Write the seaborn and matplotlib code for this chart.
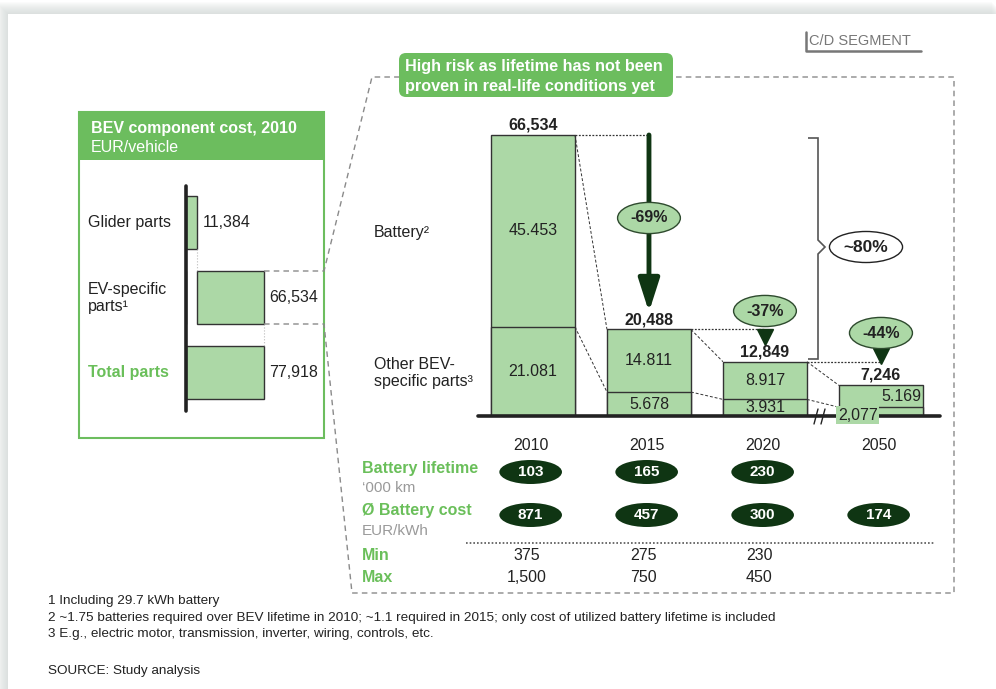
import matplotlib
matplotlib.use('Agg')
import matplotlib.pyplot as plt
import matplotlib.transforms as mtransforms
from matplotlib.patches import Rectangle, FancyBboxPatch, Ellipse, PathPatch
from matplotlib.path import Path
import seaborn as sns

# ---- data ----
left_cats = ['Glider parts', 'EV-specific\nparts\u00b9', 'Total parts']
left_values = [11384, 66534, 77918]
left_labels = ['11,384', '66,534', '77,918']

years = ['2010', '2015', '2020', '2050']
battery = [45453, 14811, 8917, 5169]
other_parts = [21081, 5678, 3931, 2077]
totals = [66534, 20488, 12849, 7246]
battery_labels = ['45.453', '14.811', '8.917', '5.169']
other_labels = ['21.081', '5.678', '3.931', '2,077']
total_labels = ['66,534', '20,488', '12,849', '7,246']
step_changes = ['-69%', '-37%', '-44%']
overall_change = '~80%'

battery_lifetime = ['103', '165', '230', '']
battery_cost = ['871', '457', '300', '174']
cost_min = ['375', '275', '230', '']
cost_max = ['1,500', '750', '450', '']

footnotes = ['1 Including 29.7 kWh battery',
             '2 ~1.75 batteries required over BEV lifetime in 2010; ~1.1 required in 2015; '
             'only cost of utilized battery lifetime is included',
             '3 E.g., electric motor, transmission, inverter, wiring, controls, etc.']
source = 'SOURCE: Study analysis'

# ---- style ----
sns.set_style('white')
plt.rcParams['font.family'] = ['Liberation Sans', 'DejaVu Sans']

bar_green = '#acd8a6'
hdr_green = '#6cbd5e'
txt_green = '#6abf5a'
dark_green = '#0f3513'
edge = '#333333'
ink = '#222222'
dash_gray = '#8a8a8a'
fs = 11.5

W, H = 996, 689
fig = plt.figure(figsize=(W / 100, H / 100), dpi=100)
fig.patch.set_facecolor('white')


def px_axes(x0, y0, x1, y1, **kw):
    return fig.add_axes([x0 / W, 1 - y1 / H, (x1 - x0) / W, (y1 - y0) / H], **kw)


# background card with a soft shadow
bg = px_axes(0, 0, W, H, zorder=-5)
bg.set_xlim(0, W)
bg.set_ylim(H, 0)
bg.axis('off')
for k in range(12, 0, -1):
    bg.add_patch(Rectangle((8 - k, 14 - k), W, H, fc='#c9d2d0', ec='none', alpha=0.07))
bg.add_patch(Rectangle((8, 14), W, H, fc='white', ec='none'))

# ---- main stacked bar chart ----
ax = px_axes(478, 110, 940, 416)
ax.patch.set_alpha(0)
ymax = totals[0] * 306 / 281
bw = 0.724

sns.barplot(x=years, y=totals, color=bar_green, saturation=1, edgecolor=edge,
            linewidth=1, width=bw, errorbar=None, ax=ax)
sns.barplot(x=years, y=other_parts, color=bar_green, saturation=1, edgecolor=edge,
            linewidth=1, width=bw, errorbar=None, ax=ax)
ax.set_xlim(-0.474, 3.509)
ax.set_ylim(0, ymax)
ax.axis('off')
ax.axhline(0, color=ink, lw=2.6, clip_on=False, zorder=5)


def px_val(py):
    return (416 - py) / 306 * ymax


for i in range(len(years)):
    ax.text(i, totals[i] + ymax * 0.008, total_labels[i], ha='center', va='bottom',
            fontsize=fs, fontweight='bold', color=ink)
    if i < 3:
        ax.text(i, other_parts[i] + battery[i] / 2, battery_labels[i], ha='center',
                va='center', fontsize=fs, color=ink)
        ax.text(i, other_parts[i] / 2, other_labels[i], ha='center', va='center',
                fontsize=fs, color=ink)
    else:
        ax.text(i + bw / 2 - 0.01, other_parts[i] + battery[i] / 2, battery_labels[i],
                ha='right', va='center', fontsize=fs, color=ink)
        ax.text(i - 0.37, other_parts[i] / 2 - ymax * 0.012, other_labels[i], ha='left',
                va='center', fontsize=fs, color=ink, zorder=6,
                bbox=dict(boxstyle='square,pad=0.1', fc=bar_green, ec='none'))

# thin connectors between consecutive bars
for i in range(3):
    ax.plot([i + bw / 2, i + 1 - bw / 2], [totals[i], totals[i + 1]], color=edge,
            lw=0.7, dashes=(3, 2))
    ax.plot([i + bw / 2, i + 1 - bw / 2], [other_parts[i], other_parts[i + 1]],
            color=edge, lw=0.7, dashes=(3, 2))
    ax.plot([i + bw / 2, i + 1], [totals[i], totals[i]], color=edge, lw=0.9,
            ls=(0, (1.5, 1.2)))

# -69% arrow
ax.annotate('', xy=(1, px_val(312)), xytext=(1, totals[0]),
            arrowprops=dict(arrowstyle='-|>,head_width=0.32,head_length=1.0',
                            mutation_scale=20, color=dark_green, lw=3.5,
                            shrinkA=0, shrinkB=0))
pct_box = dict(boxstyle='ellipse,pad=0.22', fc=bar_green, ec='#2e4a2e', lw=1)
ax.text(1, px_val(218), step_changes[0], ha='center', va='center', fontsize=fs,
        fontweight='bold', color=ink, bbox=pct_box, zorder=7)
ax.plot(2, px_val(337), marker='v', ms=11, color=dark_green, clip_on=False)
ax.text(2, px_val(311), step_changes[1], ha='center', va='center', fontsize=fs,
        fontweight='bold', color=ink, bbox=pct_box, zorder=7)
ax.plot(3, px_val(356), marker='v', ms=11, color=dark_green, clip_on=False)
ax.text(3, px_val(333), step_changes[2], ha='center', va='center', fontsize=fs,
        fontweight='bold', color=ink, bbox=pct_box, zorder=7)

# ---- left waterfall ----
ax2 = px_axes(186, 186, 324, 411)
ax2.patch.set_alpha(0)
ends = [left_values[0], left_values[0] + left_values[1], left_values[2]]
sns.barplot(x=[left_values[0], 0, left_values[2]], y=[0, 1, 2], orient='h',
            native_scale=True, color=bar_green, saturation=1, edgecolor=edge,
            linewidth=1, width=0.707, errorbar=None, ax=ax2)
ax2.barh(1, left_values[1], left=left_values[0], height=0.707, color=bar_green,
         edgecolor=edge, linewidth=1)
ax2.set_xlim(0, 138000)
ax2.set_ylim(2.52, -0.493)
ax2.axis('off')
ax2.axvline(0, color=ink, lw=2.6, clip_on=False, zorder=5)
for i, lab in enumerate(left_labels):
    ax2.text(ends[i] + 5500, i, lab, ha='left', va='center', fontsize=fs, color=ink)
ax2.plot([ends[0]] * 2, [0.3535, 1 - 0.3535], color='#bbbbbb', lw=0.8, ls=':')
ax2.plot([ends[1]] * 2, [1.3535, 2 - 0.3535], color='#bbbbbb', lw=0.8, ls=':')

# ---- overlay: frames, labels, annotations ----
ov = px_axes(0, 0, W, H)
ov.set_xlim(0, W)
ov.set_ylim(H, 0)
ov.axis('off')
ov.patch.set_alpha(0)

# left panel
ov.add_patch(Rectangle((79, 112), 245, 326, fc='none', ec=hdr_green, lw=1.5))
ov.add_patch(Rectangle((79, 112), 245, 48, fc=hdr_green, ec='none'))
ov.text(91, 128, 'BEV component cost, 2010', fontsize=11.5, fontweight='bold',
        color='white', va='center')
ov.text(91, 147, 'EUR/vehicle', fontsize=fs, color='white', va='center')
for yy, lab in zip([223, 298, 373], left_cats):
    if lab == 'Total parts':
        ov.text(88, yy, lab, fontsize=fs, fontweight='bold', color=txt_green, va='center')
    else:
        ov.text(88, yy, lab, fontsize=fs, color=ink, va='center', linespacing=1.1)

# dashed zoom frame
dkw = dict(color=dash_gray, lw=1, dashes=(4, 3))
ov.plot([264, 324, 372, 954, 954, 352, 324, 264],
        [271, 271, 77, 77, 593, 593, 324, 324], **dkw)

# callout
ov.add_patch(FancyBboxPatch((399, 53), 274, 44, boxstyle='round,pad=0,rounding_size=7',
                            fc=hdr_green, ec='none', zorder=4))
ov.text(405, 67, 'High risk as lifetime has not been', fontsize=11.7, fontweight='bold',
        color='white', va='center', zorder=5)
ov.text(405, 86, 'proven in real-life conditions yet', fontsize=11.7, fontweight='bold',
        color='white', va='center', zorder=5)

# C/D segment tag
ov.text(809, 41, 'C/D SEGMENT', fontsize=10.5, color='#777777', va='center')
ov.plot([806, 806, 921], [32, 51, 51], color='#777777', lw=1.8)

# series labels
ov.text(374, 232, 'Battery\u00b2', fontsize=fs, color=ink, va='center')
ov.text(374, 373, 'Other BEV-\nspecific parts\u00b3', fontsize=fs, color=ink,
        va='center', linespacing=1.1)

# brace and overall change
brace = Path([(808, 138), (818, 138), (818, 240), (825, 247), (818, 254), (818, 359),
              (808, 359)])
ov.add_patch(PathPatch(brace, fc='none', ec='#555555', lw=1.2))
ov.text(866, 247, overall_change, ha='center', va='center', fontsize=12.5,
        fontweight='bold', color=ink,
        bbox=dict(boxstyle='ellipse,pad=0.2', fc='white', ec=ink, lw=1))

# axis break marks
ov.plot([814, 818], [424, 409], color=ink, lw=1)
ov.plot([821, 825], [424, 409], color=ink, lw=1)

# table below the bars
trans = mtransforms.blended_transform_factory(ax.transData, ov.transData)
for i, yr in enumerate(years):
    ov.text(i - 0.02, 446, yr, transform=trans, ha='center', va='center', fontsize=fs,
            color=ink)
    for yy, val in ((472, battery_lifetime[i]), (515, battery_cost[i])):
        if val:
            ov.add_patch(Ellipse((i - 0.02, yy), 0.54, 24, transform=trans,
                                 fc=dark_green, ec='none'))
            ov.text(i - 0.02, yy, val, transform=trans, ha='center', va='center',
                    fontsize=11, fontweight='bold', color='white')
    ov.text(i - 0.05, 555, cost_min[i], transform=trans, ha='center', va='center',
            fontsize=fs, color=ink)
    ov.text(i - 0.05, 578, cost_max[i], transform=trans, ha='center', va='center',
            fontsize=fs, color=ink)

ov.text(362, 469, 'Battery lifetime', fontsize=fs, fontweight='bold', color=txt_green,
        va='center')
ov.text(362, 488, '\u2018000 km', fontsize=11, color='#9a9a9a', va='center')
ov.text(362, 511, '\u00d8 Battery cost', fontsize=fs, fontweight='bold', color=txt_green,
        va='center')
ov.text(362, 531, 'EUR/kWh', fontsize=11, color='#9a9a9a', va='center')
ov.plot([466, 935], [543, 543], color='#555555', lw=1.2, ls=(0, (1, 1.2)))
ov.text(362, 555, 'Min', fontsize=fs, fontweight='bold', color=txt_green, va='center')
ov.text(362, 578, 'Max', fontsize=fs, fontweight='bold', color=txt_green, va='center')

# footnotes
for yy, note in zip([601, 618, 634], footnotes):
    ov.text(48, yy, note, fontsize=9.7, color=ink, va='center')
ov.text(48, 671, source, fontsize=9.7, color=ink, va='center')

fig.savefig('out.png', dpi=100)
